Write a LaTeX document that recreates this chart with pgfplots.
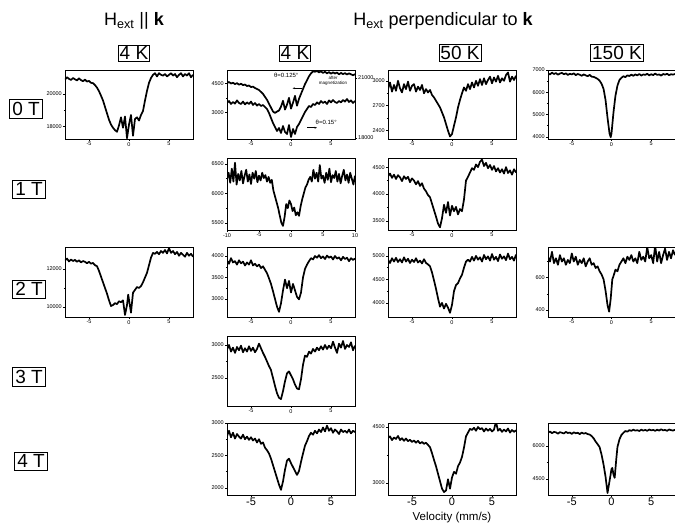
\documentclass[border=0pt]{standalone}
\usepackage{fontspec}
\setmainfont{Liberation Sans}
\usepackage{pgfplots}
\pgfplotsset{compat=1.18}
\usetikzlibrary{arrows.meta}

\pgfplotsset{
  pnl/.style={
    scale only axis, width=128pt, height=70pt, anchor=north west,
    xmin=-8, xmax=8, xtick={-5,0,5}, minor x tick num=1, minor y tick num=1,
    tick align=outside, xtick pos=left, ytick pos=left,
    major tick length=2pt, minor tick length=1.2pt,
    every tick/.style={black, line width=0.5pt},
    axis line style={line width=0.7pt},
    ticklabel style={font=\fontsize{5.5}{6}\selectfont, inner sep=1pt},
    scaled ticks=false,
    /pgf/number format/assume math mode=true,
    /pgf/number format/1000 sep={},
    cycle list={{black, mark=none}},
    every axis plot post/.append style={line width=1.7pt, line join=round},
  },
  bigx/.style={xticklabel style={font=\fontsize{11}{12}\selectfont, inner sep=0.5pt}},
}
\tikzset{lbl/.style={draw, line width=0.6pt, inner sep=2.5pt, font=\fontsize{19}{20}\selectfont}}

\begin{document}
\begin{tikzpicture}
% ---------- headers ----------
\node[font=\fontsize{18}{20}\selectfont] at (134pt,502pt) {H\textsubscript{ext} || \textbf{k}};
\node[font=\fontsize{18}{20}\selectfont] at (443pt,502pt) {H\textsubscript{ext} perpendicular to \textbf{k}};
\node[lbl, inner sep=1.5pt] at (134pt,470pt) {4 K};
\node[lbl, inner sep=1.5pt] at (295pt,470pt) {4 K};
\node[lbl, inner sep=1.5pt] at (460pt,470pt) {50 K};
\node[lbl, inner sep=1.5pt] at (617pt,470pt) {150 K};
\node[lbl] at (26pt,414pt) {0 T};
\node[lbl] at (29pt,334pt) {1 T};
\node[lbl] at (29pt,234pt) {2 T};
\node[lbl] at (29pt,146pt) {3 T};
\node[lbl] at (31pt,62pt) {4 T};
\node[font=\fontsize{11.5}{13}\selectfont, inner sep=0pt] at (452pt,5pt) {Velocity (mm/s)};

% ---------- 0 T ----------
\begin{axis}[pnl, at={(65pt,453pt)}, height=69pt, ymin=17200, ymax=21500, ytick={18000,20000}]
\addplot coordinates {(-8,20900)(-7.75,21050)(-7.5,20950)(-7.25,20880)(-7,21000)(-6.75,20920)(-6.5,20850)(-6.25,20980)(-6,20870)(-5.75,20800)(-5.5,20900)(-5.25,20780)(-5,20820)(-4.75,20700)(-4.5,20680)(-4.25,20560)(-4,20400)(-3.75,20180)(-3.5,19900)(-3.25,19600)(-3,19200)(-2.75,18800)(-2.5,18400)(-2.25,18100)(-2,17900)(-1.75,17750)(-1.5,17650)(-1.25,18050)(-1,18550)(-0.75,17900)(-0.5,18600)(-0.25,17250)(0,18100)(0.25,18700)(0.5,17400)(0.75,18450)(1,18550)(1.25,18350)(1.5,18700)(1.75,18950)(2,19600)(2.25,20200)(2.5,20700)(2.75,21000)(3,21200)(3.25,21300)(3.5,21100)(3.75,21300)(4,21200)(4.25,21150)(4.5,21250)(4.75,21100)(5,21200)(5.25,21300)(5.5,21150)(5.75,21250)(6,21050)(6.25,21200)(6.5,21300)(6.75,21100)(7,21250)(7.25,21150)(7.5,21300)(7.75,21050)(8,21200)};
\end{axis}

\begin{axis}[pnl, at={(227pt,453pt)}, height=69pt, ymin=1650, ymax=5170, ytick={3000,4500}]
\addplot coordinates {(-8,4500)(-7.75,4560)(-7.5,4480)(-7.25,4520)(-7,4450)(-6.75,4500)(-6.5,4420)(-6.25,4470)(-6,4400)(-5.75,4430)(-5.5,4350)(-5.25,4380)(-5,4300)(-4.75,4320)(-4.5,4250)(-4.25,4200)(-4,4150)(-3.75,4050)(-3.5,3950)(-3.25,3800)(-3,3650)(-2.75,3450)(-2.5,3250)(-2.25,3050)(-2,2980)(-1.75,3050)(-1.5,3100)(-1.25,3300)(-1,3600)(-0.75,3150)(-0.5,3400)(-0.25,3750)(0,3200)(0.25,3500)(0.5,3850)(0.75,3350)(1,3700)(1.25,3950)(1.5,4200)(1.75,4450)(2,4650)(2.25,4850)(2.5,5000)(2.75,5100)(3,5080)(3.25,5120)(3.5,5050)(3.75,5100)(4,5020)(4.25,5080)(4.5,5000)(4.75,5060)(5,4980)(5.25,5050)(5.5,4990)(5.75,5040)(6,4950)(6.25,5020)(6.5,4960)(6.75,5010)(7,4940)(7.25,5000)(7.5,4950)(7.75,4900)(8,4960)};
\node[font=\fontsize{6}{7}\selectfont] at (axis cs:-0.6,4914) {θ=0.125°};
\draw[-{Stealth[length=2.5pt]}, line width=0.6pt] (axis cs:1.4,4240) -- (axis cs:0.2,4240);
\node[font=\fontsize{4.5}{5}\selectfont, align=center, inner sep=0pt] at (axis cs:5.25,4630) {after\\magnetization};
\node[font=\fontsize{6}{7}\selectfont] at (axis cs:4.4,2483) {θ=0.15°};
\draw[-{Stealth[length=2.5pt]}, line width=0.6pt] (axis cs:2,2224) -- (axis cs:3.25,2224);
\end{axis}
\begin{axis}[pnl, at={(227pt,453pt)}, height=69pt, ymin=17950, ymax=21400, ytick={18000,21000}, axis y line*=right, axis x line=none, ytick pos=right, yticklabel pos=right]
\addplot coordinates {(-8,19750)(-7.75,19850)(-7.5,19700)(-7.25,19800)(-7,19720)(-6.75,19880)(-6.5,19750)(-6.25,19700)(-6,19820)(-5.75,19680)(-5.5,19780)(-5.25,19700)(-5,19820)(-4.75,19650)(-4.5,19750)(-4.25,19620)(-4,19700)(-3.75,19600)(-3.5,19650)(-3.25,19550)(-3,19450)(-2.75,19250)(-2.5,19000)(-2.25,18750)(-2,18550)(-1.75,18350)(-1.5,18500)(-1.25,18250)(-1,18600)(-0.75,18300)(-0.5,18200)(-0.25,18650)(0,18050)(0.25,18450)(0.5,18200)(0.75,18550)(1,18700)(1.25,18900)(1.5,19100)(1.75,19300)(2,19450)(2.25,19600)(2.5,19550)(2.75,19700)(3,19650)(3.25,19780)(3.5,19700)(3.75,19850)(4,19750)(4.25,19820)(4.5,19700)(4.75,19880)(5,19780)(5.25,19900)(5.5,19800)(5.75,19750)(6,19850)(6.25,19780)(6.5,19900)(6.75,19820)(7,19950)(7.25,19800)(7.5,19880)(7.75,19750)(8,19850)};
\end{axis}

\begin{axis}[pnl, at={(388pt,453pt)}, height=69pt, ymin=2300, ymax=3130, ytick={2400,2700,3000}]
\addplot coordinates {(-8,2900)(-7.75,2980)(-7.5,2870)(-7.25,2950)(-7,2880)(-6.75,3000)(-6.5,2910)(-6.25,2860)(-6,2960)(-5.75,2900)(-5.5,2990)(-5.25,2880)(-5,2940)(-4.75,2960)(-4.5,2870)(-4.25,2930)(-4,2890)(-3.75,2950)(-3.5,2850)(-3.25,2900)(-3,2860)(-2.75,2890)(-2.5,2830)(-2.25,2800)(-2,2760)(-1.75,2720)(-1.5,2680)(-1.25,2620)(-1,2560)(-0.75,2480)(-0.5,2400)(-0.25,2330)(0,2360)(0.25,2460)(0.5,2560)(0.75,2680)(1,2770)(1.25,2850)(1.5,2920)(1.75,2880)(2,2960)(2.25,2900)(2.5,2980)(2.75,2920)(3,3000)(3.25,2940)(3.5,3020)(3.75,2950)(4,3030)(4.25,2960)(4.5,3010)(4.75,3050)(5,2970)(5.25,3040)(5.5,2990)(5.75,3060)(6,2980)(6.25,3030)(6.5,3000)(6.75,3070)(7,3100)(7.25,2990)(7.5,3050)(7.75,3010)(8,3060)};
\end{axis}

\begin{axis}[pnl, at={(548pt,453pt)}, width=127pt, height=69pt, ymin=3900, ymax=7000, ytick={4000,5000,6000,7000}]
\addplot coordinates {(-8,6850)(-7.75,6800)(-7.5,6880)(-7.25,6820)(-7,6860)(-6.75,6790)(-6.5,6840)(-6.25,6870)(-6,6810)(-5.75,6850)(-5.5,6780)(-5.25,6830)(-5,6800)(-4.75,6850)(-4.5,6770)(-4.25,6820)(-4,6790)(-3.75,6740)(-3.5,6800)(-3.25,6760)(-3,6720)(-2.75,6780)(-2.5,6700)(-2.25,6690)(-2,6650)(-1.75,6600)(-1.5,6520)(-1.25,6380)(-1,6150)(-0.75,5650)(-0.5,4850)(-0.25,4150)(-0.1,3980)(0,4150)(0.25,5100)(0.5,5850)(0.75,6300)(1,6550)(1.25,6650)(1.5,6720)(1.75,6680)(2,6760)(2.25,6730)(2.5,6790)(2.75,6740)(3,6800)(3.25,6760)(3.5,6820)(3.75,6750)(4,6800)(4.25,6780)(4.5,6830)(4.75,6760)(5,6810)(5.25,6770)(5.5,6840)(5.75,6780)(6,6800)(6.25,6750)(6.5,6820)(6.75,6790)(7,6830)(7.25,6770)(7.5,6810)(7.75,6790)(8,6820)};
\end{axis}

% ---------- 1 T ----------
\begin{axis}[pnl, at={(227pt,365pt)}, height=72pt, xmin=-10, xmax=10, xtick={-10,-5,0,5,10}, ymin=5380, ymax=6600, ytick={5500,6000,6500}]
\addplot coordinates {(-10,6250)(-9.75,6350)(-9.5,6180)(-9.25,6420)(-9,6200)(-8.75,6520)(-8.5,6150)(-8.25,6330)(-8,6220)(-7.75,6380)(-7.5,6170)(-7.25,6300)(-7,6400)(-6.75,6200)(-6.5,6320)(-6.25,6160)(-6,6350)(-5.75,6250)(-5.5,6380)(-5.25,6190)(-5,6300)(-4.75,6220)(-4.5,6350)(-4.25,6260)(-4,6310)(-3.75,6200)(-3.5,6280)(-3.25,6180)(-3,6230)(-2.75,6050)(-2.5,5950)(-2.25,5850)(-2,5750)(-1.75,5620)(-1.5,5500)(-1.25,5450)(-1,5600)(-0.75,5820)(-0.5,5750)(-0.25,5880)(0,5820)(0.25,5700)(0.5,5760)(0.75,5630)(1,5680)(1.25,5620)(1.5,5780)(1.75,5900)(2,6000)(2.25,6100)(2.5,6150)(2.75,6230)(3,6280)(3.25,6200)(3.5,6400)(3.75,6250)(4,6350)(4.25,6200)(4.5,6480)(4.75,6250)(5,6300)(5.25,6180)(5.5,6350)(5.75,6230)(6,6420)(6.25,6190)(6.5,6310)(6.75,6260)(7,6380)(7.25,6200)(7.5,6330)(7.75,6170)(8,6300)(8.25,6400)(8.5,6220)(8.75,6320)(9,6180)(9.25,6350)(9.5,6250)(9.75,6150)(10,6300)};
\end{axis}

\begin{axis}[pnl, at={(388pt,365pt)}, height=72pt, ymin=3330, ymax=4670, ytick={3500,4000,4500}]
\addplot coordinates {(-8,4330)(-7.75,4380)(-7.5,4300)(-7.25,4360)(-7,4280)(-6.75,4350)(-6.5,4310)(-6.25,4240)(-6,4330)(-5.75,4280)(-5.5,4320)(-5.25,4220)(-5,4290)(-4.75,4250)(-4.5,4180)(-4.25,4240)(-4,4150)(-3.75,4200)(-3.5,4100)(-3.25,4050)(-3,3980)(-2.75,3940)(-2.5,3820)(-2.25,3700)(-2,3580)(-1.75,3450)(-1.5,3380)(-1.25,3550)(-1,3800)(-0.75,3650)(-0.5,3850)(-0.25,3600)(0,3780)(0.25,3680)(0.5,3760)(0.75,3620)(1,3720)(1.25,3680)(1.5,3900)(1.75,4250)(2,4320)(2.25,4400)(2.5,4480)(2.75,4450)(3,4550)(3.25,4500)(3.5,4600)(3.75,4640)(4,4520)(4.25,4580)(4.5,4480)(4.75,4540)(5,4450)(5.25,4520)(5.5,4420)(5.75,4480)(6,4400)(6.25,4460)(6.5,4380)(6.75,4500)(7,4390)(7.25,4440)(7.5,4360)(7.75,4460)(8,4400)};
\end{axis}

% ---------- 2 T ----------
\begin{axis}[pnl, at={(65pt,276pt)}, ymin=9470, ymax=13160, ytick={10000,12000}]
\addplot coordinates {(-8,12450)(-7.75,12550)(-7.5,12400)(-7.25,12500)(-7,12420)(-6.75,12480)(-6.5,12380)(-6.25,12460)(-6,12350)(-5.75,12420)(-5.5,12380)(-5.25,12300)(-5,12380)(-4.75,12280)(-4.5,12320)(-4.25,12200)(-4,12150)(-3.75,11900)(-3.5,11600)(-3.25,11300)(-3,11000)(-2.75,10700)(-2.5,10350)(-2.25,10050)(-2,10100)(-1.75,10200)(-1.5,10150)(-1.25,10300)(-1,10250)(-0.75,10350)(-0.5,9580)(-0.25,10100)(-0.1,10650)(0.25,9700)(0.5,10750)(0.75,10900)(1,11050)(1.25,11000)(1.5,11100)(1.75,11300)(2,11550)(2.25,11800)(2.5,12200)(2.75,12600)(3,12850)(3.25,12800)(3.5,12900)(3.75,12780)(4,12950)(4.25,12850)(4.5,13000)(4.75,12820)(5,13100)(5.25,12850)(5.5,12950)(5.75,12780)(6,12900)(6.25,12700)(6.5,12850)(6.75,12750)(7,12650)(7.25,12850)(7.5,12700)(7.75,12800)(8,12650)};
\end{axis}

\begin{axis}[pnl, at={(227pt,276pt)}, ymin=2580, ymax=4210, ytick={3000,3500,4000}]
\addplot coordinates {(-8,3900)(-7.75,3820)(-7.5,3950)(-7.25,3850)(-7,3880)(-6.75,3800)(-6.5,3900)(-6.25,3830)(-6,3870)(-5.75,3780)(-5.5,3850)(-5.25,3800)(-5,3900)(-4.75,3780)(-4.5,3820)(-4.25,3760)(-4,3800)(-3.75,3720)(-3.5,3760)(-3.25,3680)(-3,3600)(-2.75,3480)(-2.5,3350)(-2.25,3180)(-2,3000)(-1.75,2820)(-1.5,2700)(-1.25,2900)(-1,3200)(-0.75,3450)(-0.5,3250)(-0.25,3420)(0,3150)(0.25,3350)(0.5,3200)(0.75,3050)(1,2990)(1.25,3150)(1.5,3500)(1.75,3700)(2,3800)(2.25,3880)(2.5,3950)(2.75,3920)(3,4000)(3.25,3960)(3.5,4020)(3.75,3950)(4,3990)(4.25,3930)(4.5,4010)(4.75,3960)(5,3990)(5.25,3920)(5.5,4000)(5.75,3940)(6,3970)(6.25,3900)(6.5,3980)(6.75,3930)(7,3960)(7.25,3880)(7.5,3950)(7.75,3910)(8,3940)};
\end{axis}

\begin{axis}[pnl, at={(388pt,276pt)}, ymin=3700, ymax=5190, ytick={4000,4500,5000}]
\addplot coordinates {(-8,4920)(-7.75,4850)(-7.5,4950)(-7.25,4880)(-7,4960)(-6.75,4870)(-6.5,4930)(-6.25,4860)(-6,4970)(-5.75,4880)(-5.5,4940)(-5.25,4850)(-5,4920)(-4.75,4870)(-4.5,4950)(-4.25,4860)(-4,4900)(-3.75,4840)(-3.5,4930)(-3.25,4850)(-3,4820)(-2.75,4780)(-2.5,4650)(-2.25,4480)(-2,4300)(-1.75,4100)(-1.5,3920)(-1.25,4000)(-1,3880)(-0.75,3980)(-0.5,3900)(-0.25,3790)(0,3960)(0.25,4250)(0.5,4380)(0.75,4420)(1,4520)(1.25,4600)(1.5,4750)(1.75,4880)(2,4920)(2.25,4880)(2.5,4980)(2.75,4900)(3,5000)(3.25,4920)(3.5,4970)(3.75,4880)(4,5020)(4.25,4930)(4.5,4990)(4.75,4900)(5,5040)(5.25,4920)(5.5,4980)(5.75,4890)(6,5030)(6.25,4940)(6.5,4990)(6.75,4910)(7,5050)(7.25,4930)(7.5,4980)(7.75,4900)(8,5030)};
\end{axis}

\begin{axis}[pnl, at={(548pt,276pt)}, width=127pt, ymin=357, ymax=790, ytick={400,600,800}]
\addplot coordinates {(-8,730)(-7.75,700)(-7.5,760)(-7.25,690)(-7,720)(-6.75,680)(-6.5,740)(-6.25,700)(-6,720)(-5.75,680)(-5.5,710)(-5.25,690)(-5,750)(-4.75,700)(-4.5,730)(-4.25,680)(-4,710)(-3.75,690)(-3.5,720)(-3.25,670)(-3,700)(-2.75,720)(-2.5,680)(-2.25,690)(-2,660)(-1.75,670)(-1.5,640)(-1.25,620)(-1,590)(-0.75,520)(-0.5,430)(-0.3,390)(-0.1,470)(0.1,590)(0.25,610)(0.5,650)(0.75,640)(1,680)(1.25,700)(1.5,720)(1.75,690)(2,730)(2.25,710)(2.5,740)(2.75,700)(3,720)(3.25,690)(3.5,760)(3.75,710)(4,730)(4.25,700)(4.5,790)(4.75,720)(5,740)(5.25,690)(5.5,800)(5.75,700)(6,760)(6.25,690)(6.5,740)(6.75,780)(7,710)(7.25,760)(7.5,720)(7.75,770)(8,740)};
\end{axis}

% ---------- 3 T ----------
\begin{axis}[pnl, at={(227pt,187pt)}, ymin=2076, ymax=3136, ytick={2500,3000}]
\addplot coordinates {(-8,2930)(-7.75,3000)(-7.5,2900)(-7.25,2960)(-7,2880)(-6.75,2970)(-6.5,2920)(-6.25,2990)(-6,2890)(-5.75,2950)(-5.5,2900)(-5.25,2980)(-5,2910)(-4.75,2960)(-4.5,2890)(-4.25,2940)(-4,3020)(-3.75,2950)(-3.5,2880)(-3.25,2820)(-3,2750)(-2.75,2680)(-2.5,2620)(-2.25,2500)(-2,2380)(-1.75,2270)(-1.5,2200)(-1.25,2180)(-1,2300)(-0.75,2450)(-0.5,2570)(-0.25,2600)(0,2540)(0.25,2480)(0.5,2400)(0.75,2340)(1,2330)(1.25,2480)(1.5,2700)(1.75,2840)(2,2820)(2.25,2900)(2.5,2870)(2.75,2940)(3,2900)(3.25,2960)(3.5,2920)(3.75,2980)(4,2930)(4.25,3000)(4.5,2940)(4.75,2990)(5,2950)(5.25,3050)(5.5,2960)(5.75,2880)(6,3020)(6.25,2960)(6.5,3060)(6.75,2940)(7,3000)(7.25,2970)(7.5,3040)(7.75,2920)(8,2990)};
\end{axis}

% ---------- 4 T ----------
\begin{axis}[pnl, bigx, at={(227pt,100pt)}, height=72pt, ymin=1890, ymax=3000, ytick={2000,2500,3000}]
\addplot coordinates {(-8,2800)(-7.75,2880)(-7.5,2780)(-7.25,2850)(-7,2760)(-6.75,2830)(-6.5,2790)(-6.25,2760)(-6,2820)(-5.75,2750)(-5.5,2790)(-5.25,2740)(-5,2780)(-4.75,2730)(-4.5,2760)(-4.25,2700)(-4,2750)(-3.75,2680)(-3.5,2700)(-3.25,2620)(-3,2580)(-2.75,2530)(-2.5,2450)(-2.25,2350)(-2,2250)(-1.75,2150)(-1.5,2050)(-1.25,1970)(-1,2100)(-0.75,2280)(-0.5,2420)(-0.25,2450)(0,2380)(0.25,2320)(0.5,2260)(0.75,2200)(1,2260)(1.25,2400)(1.5,2530)(1.75,2650)(2,2720)(2.25,2800)(2.5,2850)(2.75,2820)(3,2880)(3.25,2840)(3.5,2900)(3.75,2860)(4,2930)(4.25,2870)(4.5,2960)(4.75,2880)(5,2920)(5.25,2850)(5.5,2900)(5.75,2870)(6,2830)(6.25,2900)(6.5,2860)(6.75,2880)(7,2850)(7.25,2900)(7.5,2840)(7.75,2880)(8,2860)};
\end{axis}

\begin{axis}[pnl, bigx, at={(388pt,100pt)}, height=72pt, ymin=2680, ymax=4607, ytick={3000,4500}]
\addplot coordinates {(-8,4200)(-7.75,4250)(-7.5,4150)(-7.25,4220)(-7,4180)(-6.75,4260)(-6.5,4150)(-6.25,4200)(-6,4130)(-5.75,4190)(-5.5,4120)(-5.25,4160)(-5,4100)(-4.75,4140)(-4.5,4080)(-4.25,4130)(-4,4060)(-3.75,4100)(-3.5,4050)(-3.25,4080)(-3,4020)(-2.75,3960)(-2.5,3800)(-2.25,3620)(-2,3450)(-1.75,3250)(-1.5,3050)(-1.25,2850)(-1,2760)(-0.75,2800)(-0.5,3100)(-0.25,2850)(0,3150)(0.25,3300)(0.5,3250)(0.75,3450)(1,3550)(1.25,3700)(1.5,3950)(1.75,4250)(2,4350)(2.25,4450)(2.5,4420)(2.75,4480)(3,4400)(3.25,4500)(3.5,4440)(3.75,4470)(4,4380)(4.25,4460)(4.5,4400)(4.75,4450)(5,4380)(5.25,4430)(5.5,4640)(5.75,4400)(6,4450)(6.25,4370)(6.5,4430)(6.75,4380)(7,4460)(7.25,4350)(7.5,4420)(7.75,4370)(8,4410)};
\end{axis}

\begin{axis}[pnl, bigx, at={(548pt,100pt)}, width=127pt, height=72pt, ymin=3770, ymax=7045, ytick={4500,6000}]
\addplot coordinates {(-8,6600)(-7.75,6660)(-7.5,6580)(-7.25,6640)(-7,6620)(-6.75,6560)(-6.5,6630)(-6.25,6600)(-6,6570)(-5.75,6640)(-5.5,6590)(-5.25,6610)(-5,6550)(-4.75,6620)(-4.5,6580)(-4.25,6600)(-4,6540)(-3.75,6610)(-3.5,6560)(-3.25,6590)(-3,6540)(-2.75,6520)(-2.5,6450)(-2.25,6350)(-2,6200)(-1.75,6080)(-1.5,5950)(-1.25,5600)(-1,5150)(-0.75,4600)(-0.5,3860)(-0.25,4400)(0,4950)(0.1,5000)(0.25,4700)(0.4,4550)(0.6,5400)(0.75,5950)(1,6300)(1.25,6500)(1.5,6600)(1.75,6680)(2,6650)(2.25,6720)(2.5,6690)(2.75,6740)(3,6700)(3.25,6720)(3.5,6680)(3.75,6740)(4,6700)(4.25,6730)(4.5,6690)(4.75,6750)(5,6710)(5.25,6730)(5.5,6690)(5.75,6740)(6,6700)(6.25,6760)(6.5,6710)(6.75,6730)(7,6690)(7.25,6750)(7.5,6720)(7.75,6700)(8,6740)};
\end{axis}

\pgfresetboundingbox
\useasboundingbox (0,0) rectangle (675pt,523pt);
\end{tikzpicture}
\end{document}
